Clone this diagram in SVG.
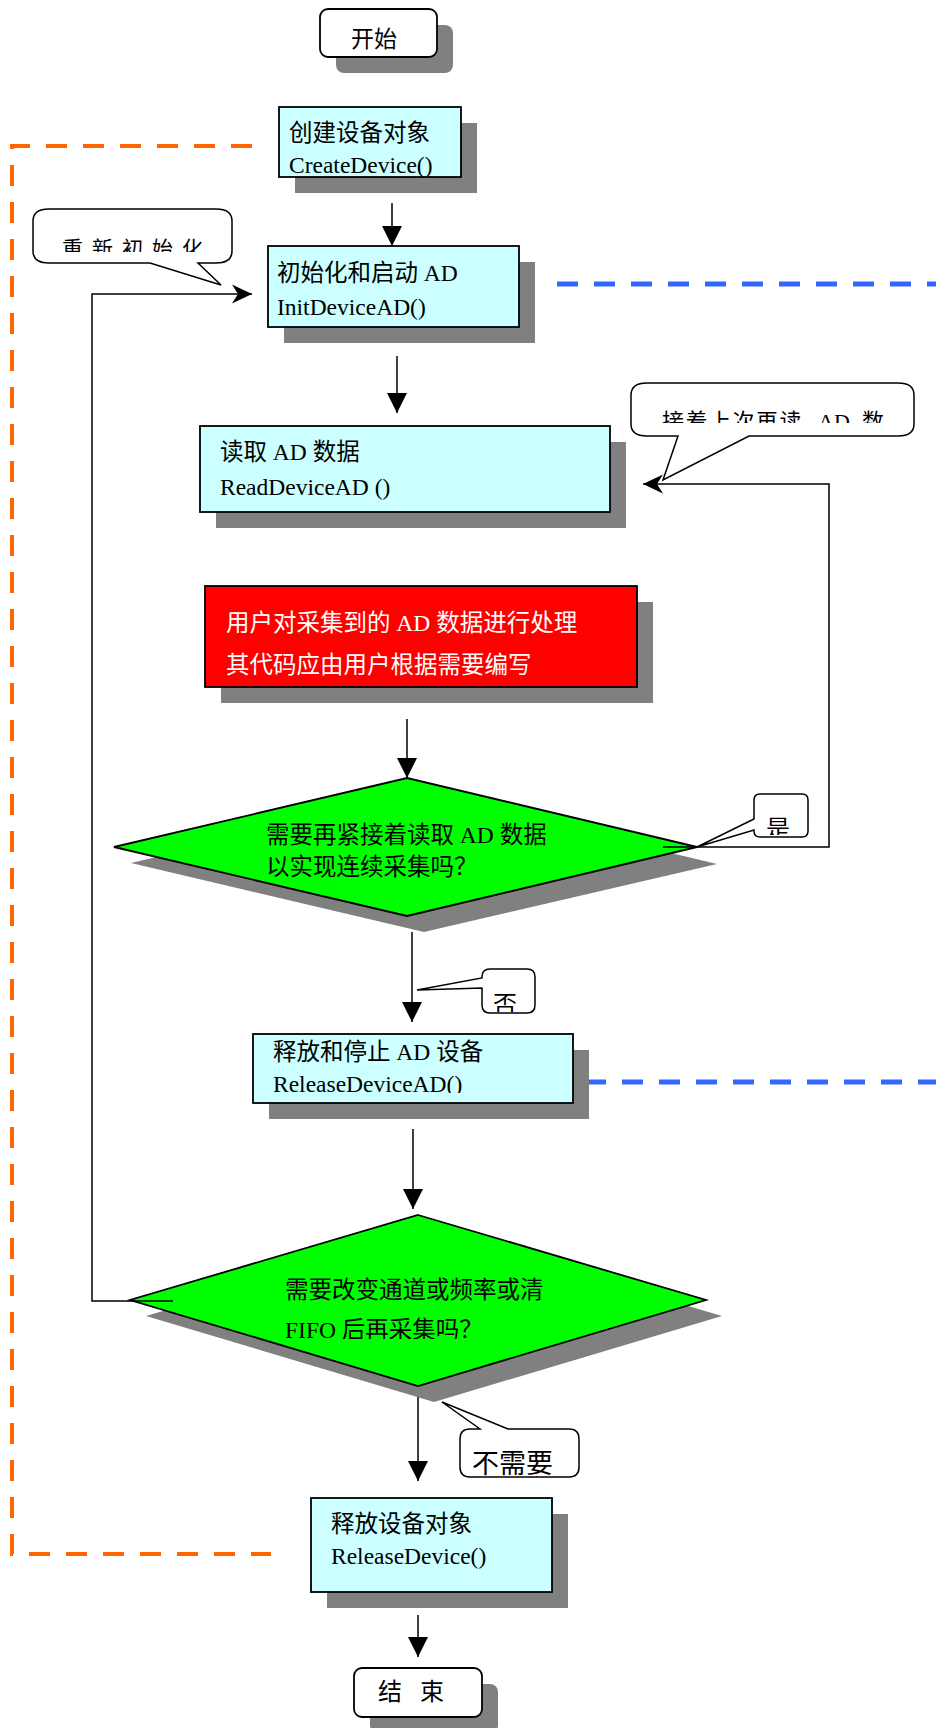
<svg xmlns="http://www.w3.org/2000/svg" width="936" height="1728" viewBox="0 0 936 1728">
<style>
.sh{fill:#808080}
.box{fill:#CCFFFF;stroke:#000;stroke-width:1.8}
.red{fill:#FF0000;stroke:#000;stroke-width:1.8}
.dia{fill:#00FF00;stroke:#000;stroke-width:1.8}
.term{fill:#fff;stroke:#000;stroke-width:1.8}
.bub{fill:#fff;stroke:#000;stroke-width:1.5}
.t{font-family:"Liberation Serif","Noto Sans CJK SC",serif;font-size:23.5px;fill:#000}
.w{fill:#fff}
.conn{fill:none;stroke:#000;stroke-width:1.5}
.dash{fill:none;stroke-width:4;stroke-dasharray:21 16}
</style>
<defs>
<marker id="ah" markerUnits="userSpaceOnUse" viewBox="0 0 20 20" markerWidth="20" markerHeight="20" refX="20" refY="10" orient="auto"><path d="M0,0 L20,10 L0,20 Z" fill="#000"/></marker>
<marker id="an" markerUnits="userSpaceOnUse" viewBox="0 0 20 20" markerWidth="20" markerHeight="20" refX="20" refY="10" orient="auto"><path d="M0,0.5 L20,10 L0,19.5 L6,10 Z" fill="#000"/></marker>
<clipPath id="c1"><rect x="33" y="209" width="199" height="43"/></clipPath>
<clipPath id="c2"><rect x="631" y="383" width="283" height="40"/></clipPath>
<clipPath id="c3"><rect x="754" y="794" width="54" height="41"/></clipPath>
<clipPath id="c4"><rect x="482" y="969" width="53" height="43"/></clipPath>
<clipPath id="c5"><rect x="253" y="1034" width="320" height="59"/></clipPath>
<clipPath id="c6"><rect x="130" y="1215" width="576" height="124"/></clipPath>
</defs>

<g id="region-lines">
<path class="dash" stroke="#FF6600" d="M252,146 H12 V1554 H271"/>
<path class="dash" stroke="#3366FF" style="stroke-width:5" d="M557,284 H936"/>
<path class="dash" stroke="#3366FF" style="stroke-width:5" d="M585,1082 H936"/>
</g>

<g id="start">
<rect class="sh" x="336" y="25" width="117" height="48" rx="8"/>
<rect class="term" x="320" y="9" width="117" height="48" rx="8"/>
<text class="t" x="351" y="47" style="font-size:23px">开始</text>
</g>

<g id="create-device">
<rect class="sh" x="295" y="123" width="182" height="70"/>
<rect class="box" x="279" y="107" width="182" height="70"/>
<text class="t" x="289" y="141">创建设备对象</text>
<text class="t" x="289" y="173">CreateDevice()</text>
</g>

<g id="init-device">
<rect class="sh" x="284" y="262" width="251" height="81"/>
<rect class="box" x="268" y="246" width="251" height="81"/>
<text class="t" x="277" y="281">初始化和启动 AD</text>
<text class="t" x="277" y="315">InitDeviceAD()</text>
</g>

<g id="read-device">
<rect class="sh" x="216" y="442" width="410" height="86"/>
<rect class="box" x="200" y="426" width="410" height="86"/>
<text class="t" x="220" y="460">读取 AD 数据</text>
<text class="t" x="220" y="495">ReadDeviceAD ()</text>
</g>

<g id="user-process">
<rect class="sh" x="221" y="602" width="432" height="101"/>
<rect class="red" x="205" y="586" width="432" height="101"/>
<text class="t w" x="226" y="631">用户对采集到的 AD 数据进行处理</text>
<text class="t w" x="226" y="673">其代码应由用户根据需要编写</text>
</g>

<g id="decision-continue">
<polygon class="sh" points="424,794 717,864 424,932 131,863"/>
<polygon class="dia" points="407,778 697,847 407,916 114,847"/>
<text class="t" x="266" y="843">需要再紧接着读取 AD 数据</text>
<text class="t" x="266" y="875">以实现连续采集吗？</text>
</g>

<g id="release-device-ad">
<rect class="sh" x="269" y="1050" width="320" height="69"/>
<rect class="box" x="253" y="1034" width="320" height="69"/>
<text class="t" x="273" y="1060">释放和停止 AD 设备</text>
<text class="t" x="273" y="1092" clip-path="url(#c5)">ReleaseDeviceAD()</text>
</g>

<g id="decision-reinit">
<polygon class="sh" points="434,1231 722,1316 434,1402 146,1316"/>
<polygon class="dia" points="418,1215 706,1300 418,1386 130,1300"/>
<text class="t" x="285" y="1298">需要改变通道或频率或清</text>
<text class="t" x="285" y="1338" clip-path="url(#c6)">FIFO 后再采集吗？</text>
</g>

<g id="release-device">
<rect class="sh" x="327" y="1514" width="241" height="94"/>
<rect class="box" x="311" y="1498" width="241" height="94"/>
<text class="t" x="331" y="1532">释放设备对象</text>
<text class="t" x="331" y="1564">ReleaseDevice()</text>
</g>

<g id="end">
<rect class="sh" x="370" y="1684" width="128" height="49" rx="8"/>
<rect class="term" x="354" y="1668" width="128" height="49" rx="8"/>
<text class="t" x="378 420" y="1700" style="font-size:24px">结束</text>
</g>

<g id="connectors">
<path class="conn" marker-end="url(#ah)" d="M392,203 V246"/>
<path class="conn" marker-end="url(#ah)" d="M397,356 V413"/>
<path class="conn" marker-end="url(#ah)" d="M407,719 V778"/>
<path class="conn" marker-end="url(#ah)" d="M412,932 V1022"/>
<path class="conn" marker-end="url(#ah)" d="M413,1129 V1209"/>
<path class="conn" marker-end="url(#ah)" d="M418,1397 V1481"/>
<path class="conn" marker-end="url(#ah)" d="M418,1615 V1657"/>
<path class="conn" marker-end="url(#an)" d="M663,847 H829 V484 H643"/>
<path class="conn" marker-end="url(#an)" d="M173,1301 H92 V294 H252"/>
</g>

<g id="label-reinit">
<path class="bub" d="M49,209 H216 Q232,209 232,221 V251 Q232,263 216,263 H198 L221,285 L150,263 H49 Q33,263 33,251 V221 Q33,209 49,209 Z"/>
<text class="t" x="62 92 122 152 182" y="256" style="font-size:21px" clip-path="url(#c1)">重新初始化</text>
</g>

<g id="label-continue">
<path class="bub" d="M647,383 H898 Q914,383 914,395 V424 Q914,436 898,436 H749 L663,480 L678,436 H647 Q631,436 631,424 V395 Q631,383 647,383 Z"/>
<text class="t" y="429" style="font-size:22px" clip-path="url(#c2)"><tspan x="662" letter-spacing="1.5">接着上次再读</tspan><tspan x="818">AD</tspan><tspan x="862">数</tspan></text>
</g>

<g id="label-yes">
<path class="bub" d="M760,794 H802 Q808,794 808,800 V831 Q808,837 802,837 H760 Q754,837 754,831 V830 L697,847 L754,819 V800 Q754,794 760,794 Z"/>
<text class="t" x="766" y="837" style="font-size:24px" clip-path="url(#c3)">是</text>
</g>

<g id="label-no">
<path class="bub" d="M490,969 H527 Q535,969 535,977 V1005 Q535,1013 527,1013 H490 Q482,1013 482,1005 V988 L417,990 L482,978 V977 Q482,969 490,969 Z"/>
<text class="t" x="493" y="1013" style="font-size:24px" clip-path="url(#c4)">否</text>
</g>

<g id="label-not-needed">
<path class="bub" d="M470,1429 H480 L442,1402 L508,1429 H569 Q579,1429 579,1439 V1467 Q579,1477 569,1477 H470 Q460,1477 460,1467 V1439 Q460,1429 470,1429 Z"/>
<text class="t" x="472" y="1473" style="font-size:27px">不需要</text>
</g>
</svg>
